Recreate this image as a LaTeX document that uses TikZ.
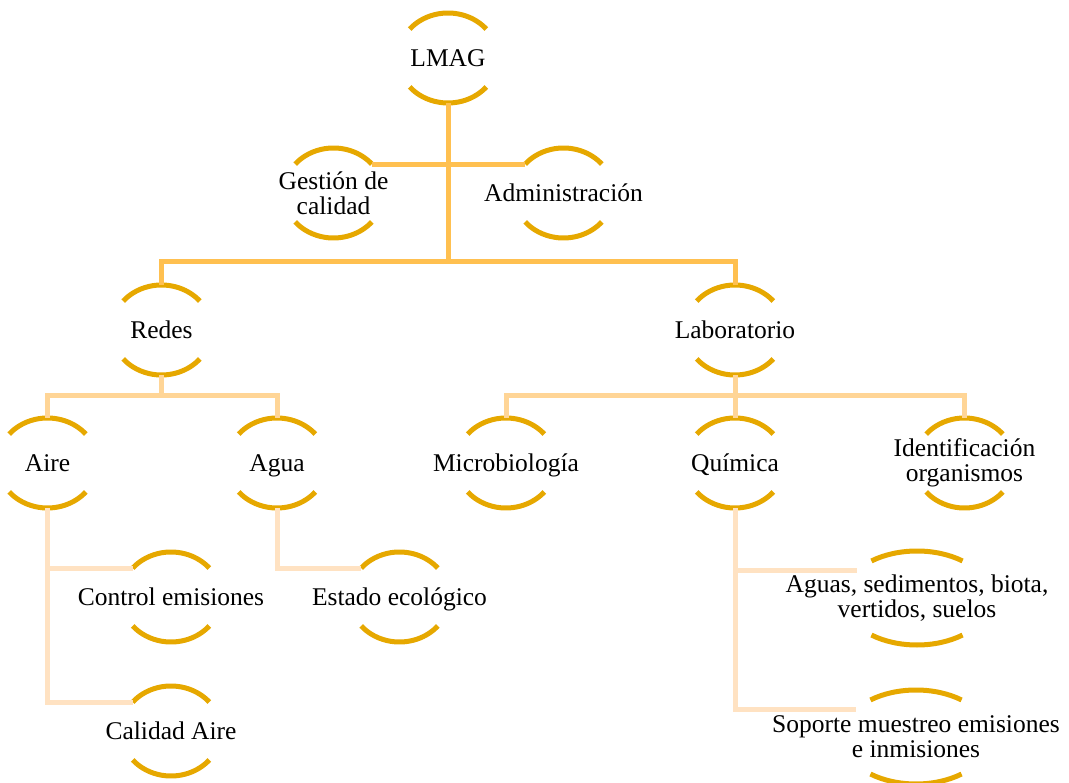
\documentclass[tikz,border=0pt]{standalone}
\usepackage{fontspec}
\setmainfont{Liberation Serif}
\usetikzlibrary{calc}

\definecolor{ringgold}{RGB}{230,168,0}
\definecolor{linkone}{RGB}{255,192,80}
\definecolor{linktwo}{RGB}{255,213,150}
\definecolor{linkthree}{RGB}{255,226,194}

\tikzset{
    ring/.style={draw=ringgold, line width=5pt},
    linkA/.style={draw=linkone, line width=5pt},
    linkB/.style={draw=linktwo, line width=5pt},
    linkC/.style={draw=linkthree, line width=5pt},
    unit/.style={font=\fontsize{25.5}{25}\selectfont, inner sep=0pt, text height=16.9pt, text depth=0pt},
    unitm/.style={font=\fontsize{25.5}{25}\selectfont, inner sep=0pt, align=center}
}

% two arcs round a node: name, x radius, y radius, start angle
\newcommand{\rings}[4]{%
    \draw[ring] (#1.center) ++(#4:#2 and #3) coordinate (#1-tr)
        arc[start angle=#4, end angle=180-#4, x radius=#2, y radius=#3] coordinate (#1-tl);
    \draw[ring] (#1.center) ++(-#4:#2 and #3)
        arc[start angle=-#4, end angle=-180+#4, x radius=#2, y radius=#3];
    \path (#1.center) ++(0,#3) coordinate (#1-t);
    \path (#1.center) ++(0,-#3) coordinate (#1-b);
    \path (#1.center) ++(144:#2 and #3) coordinate (#1-in);
}

\begin{document}
\begin{tikzpicture}[x=1pt, y=1pt]
        \useasboundingbox (0,0) rectangle (1069,-783);

        \node[unit] (lmag) at (448,-58) {LMAG};
        \node[unitm] (gest) at (333.5,-193) {Gestión de\\calidad};
        \node[unit] (adm) at (563.5,-193) {Administración};
        \node[unit] (redes) at (161.5,-330) {Redes};
        \node[unit] (lab) at (735,-330) {Laboratorio};
        \node[unit] (aire) at (47.5,-463) {Aire};
        \node[unit] (agua) at (277,-463) {Agua};
        \node[unit] (micro) at (506,-463) {Microbiología};
        \node[unit] (quim) at (735,-463) {Química};
        \node[unitm] (ident) at (964.5,-463) {Identificación\\organismos};
        \node[unit] (control) at (171,-597) {Control emisiones};
        \node[unit] (estado) at (399.5,-597) {Estado ecológico};
        \node[unitm] (aguas) at (917,-598) {Aguas, sedimentos, biota,\\vertidos, suelos};
        \node[unit] (calidad) at (171,-731) {Calidad Aire};
        \node[unitm] (soporte) at (916,-737) {Soporte muestreo emisiones\\e inmisiones};

        \foreach \n in {lmag, gest, adm, redes, lab, aire, agua, micro, quim, ident, control, estado, calidad}
            \rings{\n}{50}{45}{40};
        \rings{aguas}{74}{47}{52}
        \rings{soporte}{74}{47}{52}

        % first level
        \coordinate (bus1) at (448,-262);
        \draw[linkA] (lmag-b) -- (bus1);
        \draw[linkA] (gest-tr) -- (adm-tl);
        \draw[linkA] (redes-t) |- (bus1) -| (lab-t);

        % second level
        \draw[linkB] (redes-b) -- ++(0,-21) coordinate (redes-bus);
        \draw[linkB] (aire-t) |- (redes-bus) -| (agua-t);
        \draw[linkB] (lab-b) -- ++(0,-21) coordinate (lab-bus);
        \draw[linkB] (micro-t) |- (lab-bus) -| (ident-t);
        \draw[linkB] (lab-bus) -- (quim-t);

        % third level
        \draw[linkC] (aire-b) |- (calidad-tl);
        \draw[linkC] (aire-b |- control-tl) -- (control-tl);
        \draw[linkC] (agua-b) |- (estado-tl);
        \draw[linkC] (quim-b) |- (soporte-in);
        \draw[linkC] (quim-b |- aguas-in) -- (aguas-in);
    \end{tikzpicture}
\end{document}
